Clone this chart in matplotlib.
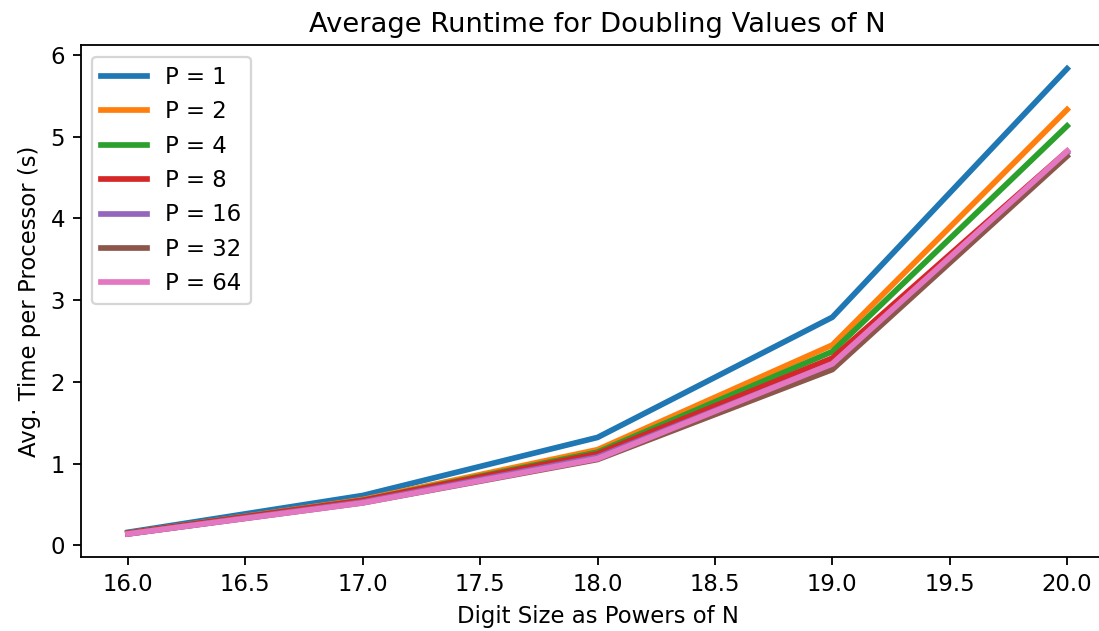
import matplotlib
matplotlib.use("Agg")
import matplotlib.pyplot as plt

# ----- DATA -----
powers = [16, 17, 18, 19, 20]
procs = [1, 2, 4, 8, 16, 32, 64]
times = {
    1:  [0.16, 0.61, 1.32, 2.79, 5.83],
    2:  [0.15, 0.56, 1.17, 2.45, 5.33],
    4:  [0.15, 0.55, 1.14, 2.37, 5.13],
    8:  [0.15, 0.55, 1.12, 2.29, 4.82],
    16: [0.14, 0.53, 1.08, 2.22, 4.80],
    32: [0.14, 0.52, 1.05, 2.15, 4.76],
    64: [0.14, 0.52, 1.06, 2.22, 4.82],
}

# ----- FIGURE -----
DPI = 164
fig = plt.figure(figsize=(1099 / DPI, 631 / DPI), dpi=DPI)
# axes runs slightly past the right edge (original screenshot was cropped)
ax = fig.add_axes([0.0737, 0.117, 0.940, 0.811])

for p in procs:
    ax.plot(powers, times[p], linewidth=2.5, label=f"P = {p}")

ax.set_title("Average Runtime for Doubling Values of N")
ax.set_xlabel("Digit Size as Powers of N")
ax.set_ylabel("Avg. Time per Processor (s)")
ax.legend(loc="upper left")

fig.savefig("out.png", dpi=DPI)
